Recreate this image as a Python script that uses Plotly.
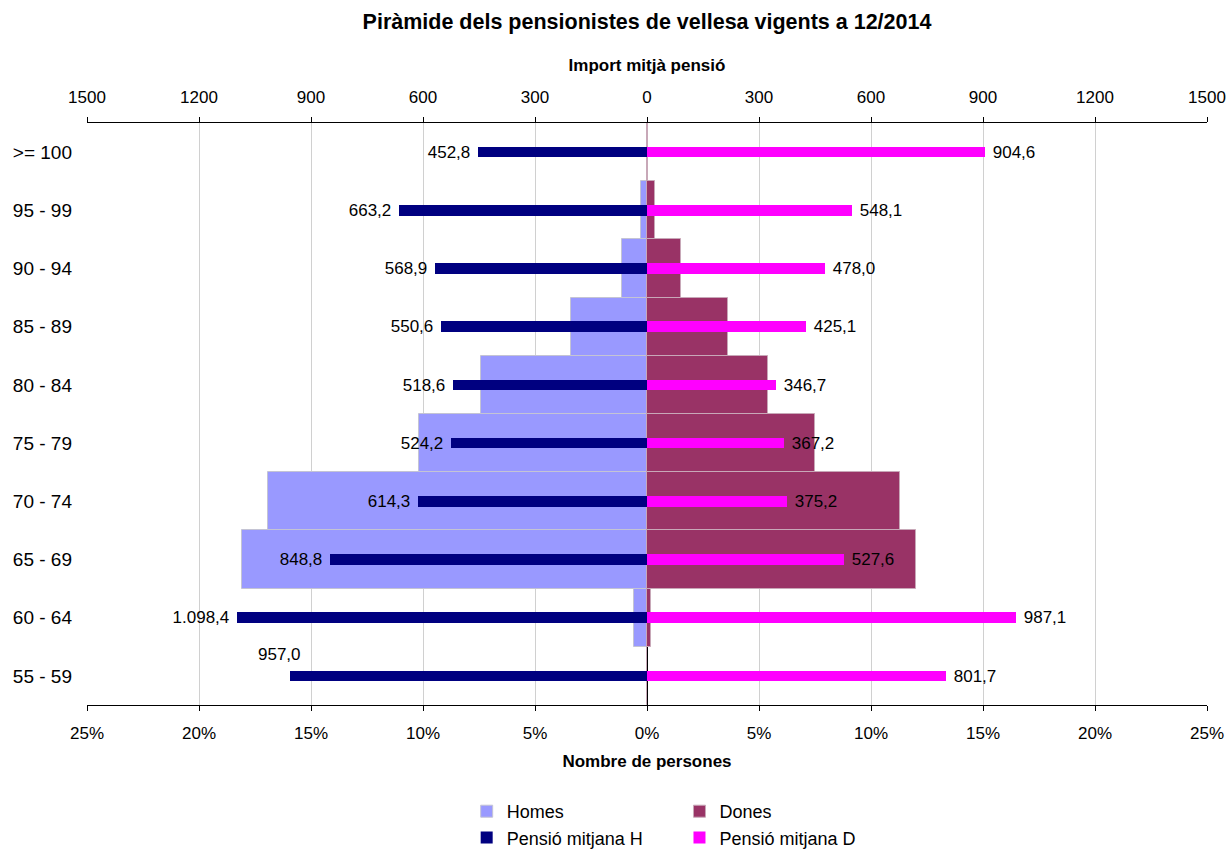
import plotly.graph_objects as go

categories = ["55 - 59", "60 - 64", "65 - 69", "70 - 74", "75 - 79",
              "80 - 84", "85 - 89", "90 - 94", "95 - 99", ">= 100"]
homes_pct = [0.0, 0.6, 18.1, 16.9, 10.2, 7.4, 3.4, 1.1, 0.27, 0.02]
dones_pct = [0.0, 0.18, 12.0, 11.3, 7.5, 5.4, 3.6, 1.5, 0.36, 0.04]
pensio_h = [957.0, 1098.4, 848.8, 614.3, 524.2, 518.6, 550.6, 568.9, 663.2, 452.8]
pensio_d = [801.7, 987.1, 527.6, 375.2, 367.2, 346.7, 425.1, 478.0, 548.1, 904.6]

pct_ticks = [-25, -20, -15, -10, -5, 0, 5, 10, 15, 20, 25]
eur_ticks = [-1500, -1200, -900, -600, -300, 0, 300, 600, 900, 1200, 1500]


def fmt(v):
    s = f"{v:,.1f}"
    return s.replace(",", "X").replace(".", ",").replace("X", ".")


FONT = "Liberation Sans, Arial, sans-serif"
LBL = 17
W, H = 1228, 850

fig = go.Figure()

fig.add_trace(go.Bar(
    y=categories, x=[-v for v in homes_pct], orientation="h", name="Homes",
    marker=dict(color="#9999FF", line=dict(color="#C4C4D4", width=1)),
    width=1.0, xaxis="x", yaxis="y", legend="legend", hoverinfo="skip"))
fig.add_trace(go.Bar(
    y=categories, x=dones_pct, orientation="h", name="Dones",
    marker=dict(color="#993366", line=dict(color="#C8A8B8", width=1)),
    width=1.0, xaxis="x", yaxis="y", legend="legend2", hoverinfo="skip"))

h_text = [fmt(v) + " " for v in pensio_h]
h_text[0] = ""
fig.add_trace(go.Bar(
    y=categories, x=[-v for v in pensio_h], orientation="h", name="Pensió mitjana H",
    marker=dict(color="#000080", line=dict(width=0)), width=0.18,
    text=h_text, textposition="outside", constraintext="none", cliponaxis=False,
    textfont=dict(color="black", size=LBL, family=FONT),
    xaxis="x2", yaxis="y", legend="legend", hoverinfo="skip"))
fig.add_trace(go.Bar(
    y=categories, x=pensio_d, orientation="h", name="Pensió mitjana D",
    marker=dict(color="#FF00FF", line=dict(width=0)), width=0.18,
    text=[" " + fmt(v) for v in pensio_d], textposition="outside", constraintext="none",
    cliponaxis=False, textfont=dict(color="black", size=LBL, family=FONT),
    xaxis="x2", yaxis="y", legend="legend2", hoverinfo="skip"))

fig.add_annotation(x=-pensio_h[0], y=categories[0], xref="x2", yref="y",
                   text=fmt(pensio_h[0]), showarrow=False, xanchor="right",
                   xshift=13, yshift=21, font=dict(size=LBL, color="black", family=FONT))

fig.update_layout(
    width=W, height=H,
    paper_bgcolor="white", plot_bgcolor="white",
    font=dict(family=FONT, size=17, color="black"),
    margin=dict(l=87, r=21, t=123, b=145, autoexpand=False),
    barmode="overlay", bargap=0,
    title=dict(text="<b>Piràmide dels pensionistes de vellesa vigents a 12/2014</b>",
               x=0.5, xanchor="center", xref="paper", yref="container",
               y=1 - 14 / H, yanchor="top",
               font=dict(size=21.5, family=FONT)),
    xaxis=dict(range=[-25, 25], tickvals=pct_ticks,
               ticktext=[f"{abs(t)}%" for t in pct_ticks],
               showgrid=True, gridcolor="#D0D0D0", gridwidth=1,
               zeroline=True, zerolinecolor="black", zerolinewidth=1,
               showline=True, linecolor="black", linewidth=1,
               ticks="outside", ticklen=5, tickcolor="black",
               tickfont=dict(size=17), ticklabelstandoff=8, automargin=False,
               title=dict(text="<b>Nombre de persones</b>", font=dict(size=17), standoff=12),
               fixedrange=True),
    xaxis2=dict(range=[-1500, 1500], tickvals=eur_ticks,
                ticktext=[str(abs(t)) for t in eur_ticks],
                overlaying="x", side="top", showgrid=False, zeroline=False,
                showline=True, linecolor="black", linewidth=1,
                ticks="outside", ticklen=5, tickcolor="black",
                tickfont=dict(size=17), ticklabelstandoff=7, automargin=False,
                title=dict(text="<b>Import mitjà pensió</b>", font=dict(size=17), standoff=12),
                fixedrange=True),
    yaxis=dict(categoryorder="array", categoryarray=categories,
               range=[-0.5, 9.5], showgrid=False, zeroline=False,
               showline=False, ticks="", tickfont=dict(size=19),
               ticklabelstandoff=14, automargin=False, fixedrange=True),
    yaxis2=dict(range=[-0.5, 9.5], overlaying="y", anchor="free", position=0.5,
                side="left", tickvals=[i + 0.5 for i in range(-1, 10)],
                ticks="outside", ticklen=5, tickcolor="black",
                showticklabels=False, showgrid=False, zeroline=False,
                showline=False, automargin=False, fixedrange=True),
    legend=dict(x=0.339, y=1 - 793 / H, xanchor="left", yanchor="top",
                yref="container", orientation="v", font=dict(size=18),
                tracegroupgap=0, itemwidth=30, bgcolor="rgba(0,0,0,0)"),
    legend2=dict(x=0.529, y=1 - 793 / H, xanchor="left", yanchor="top",
                 yref="container", orientation="v", font=dict(size=18),
                 tracegroupgap=0, itemwidth=30, bgcolor="rgba(0,0,0,0)"),
)

fig.write_html("out.html", config={"displayModeBar": False},
               post_script="document.body.style.margin='0';document.body.style.overflow='hidden';")
